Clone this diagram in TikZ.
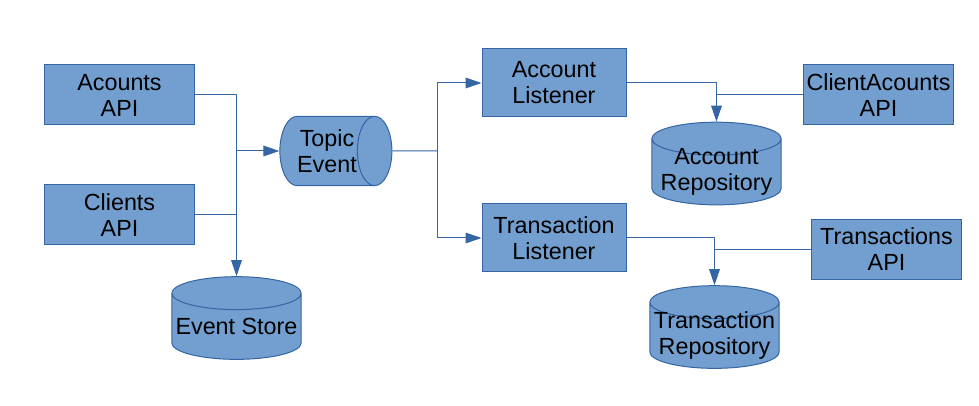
\documentclass[tikz,border=0pt]{standalone}
\usepackage{fontspec}
\setmainfont{Liberation Sans}
\usetikzlibrary{shapes.geometric,arrows.meta}
\definecolor{boxfill}{HTML}{729FCF}
\definecolor{boxline}{HTML}{3465A4}
\tikzset{
  api/.style={draw=boxline,fill=boxfill,line width=0.75pt,minimum width=113pt,minimum height=45pt,align=center,inner sep=0pt},
  listener/.style={api,minimum width=108pt,minimum height=51pt},
  store/.style={cylinder,shape border rotate=90,aspect=0.27,draw=boxline,fill=boxfill,line width=0.75pt,minimum width=97pt,minimum height=62pt,align=center,inner sep=0pt},
  storetext/.style={align=center,inner sep=0pt},
  topic/.style={cylinder,aspect=0.8,draw=boxline,fill=boxfill,line width=0.75pt,minimum height=84pt,minimum width=52pt,align=center,inner sep=0pt},
  link/.style={draw=boxline,line width=0.75pt},
  flow/.style={link,-{Triangle[length=12pt,width=8pt]}}
}
\begin{document}
\begin{tikzpicture}[x=0.75pt,y=-0.75pt,font=\fontsize{17.5}{19.5}\selectfont]
    \useasboundingbox (0,0) rectangle (979,406);
    \node[api] (acc api) at (119.5,95) {Acounts\\API};
    \node[api] (cli api) at (119.5,215) {Clients\\API};
    \node[topic] (topic) at (327,151) {Topic\\Event};
    \node[store] (evstore) at (236.5,326.5) {Event Store};
    \node[listener] (acc lst) at (554,83) {Account\\Listener};
    \node[listener] (tr lst) at (554,238) {Transaction\\Listener};
    % repositories: phantom keeps the cylinder caps as wide as the event store
    \node[store] (acc repo) at (716.5,172) {\phantom{Event Store}};
    \node[storetext] (acc repo text) at (acc repo.center) {Account\\Repository};
    \node[store] (tr repo) at (714.5,335.5) {\phantom{Event Store}};
    \node[storetext] (tr repo text) at (tr repo.center) {Transaction\\Repository};
    \node[api] (cliacc api) at (878.5,95) {ClientAcounts\\API};
    \node[api] (tr api) at (886.5,249.5) {Transactions\\API};
    \coordinate (join) at (236,151);
    \coordinate (fork) at (437,151);
    \draw[flow] (acc api.east) -| (evstore.top);
    \draw[link] (cli api.east) -- (cli api.east -| join);
    \draw[flow] (join) -- (topic.west);
    \draw[link] (topic.east) -- (fork);
    \draw[flow] (fork) |- (acc lst.west);
    \draw[flow] (fork) |- (tr lst.west);
    \draw[flow] (acc lst.east) -| (acc repo.top);
    \draw[link] (cliacc api.west) -- (cliacc api.west -| acc repo.top);
    \draw[flow] (tr lst.east) -| (tr repo.top);
    \draw[link] (tr api.west) -- (tr api.west -| tr repo.top);
\end{tikzpicture}
\end{document}
